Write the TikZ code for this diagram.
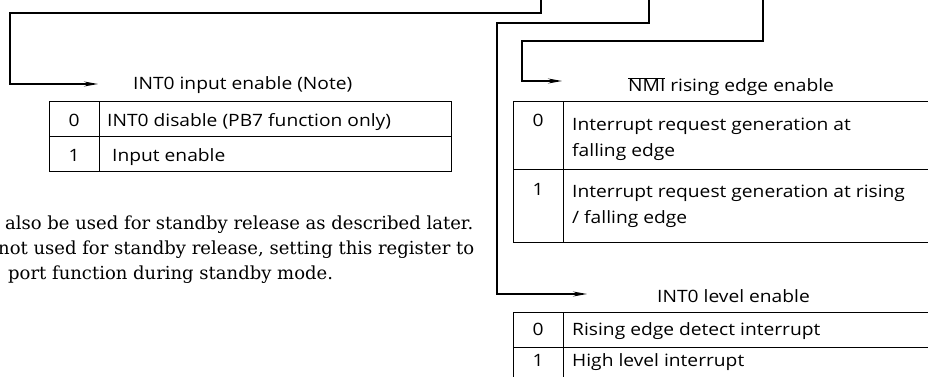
\documentclass[tikz,border=0pt]{standalone}
\usepackage{fontspec}
\setmainfont{Open Sans}[FakeStretch=1.13]
\newfontfamily\notefont{DejaVu Serif}
\usetikzlibrary{arrows.meta}
\tikzset{
  wire/.style={line width=1.3pt},
  wirearr/.style={wire, -{Stealth[length=14pt,width=5pt]}},
  cellbox/.style={draw, line width=1.3pt, rectangle, inner sep=0pt, anchor=north west},
  txt/.style={anchor=base west, inner sep=0pt, font=\fontsize{17}{20}\selectfont},
  num/.style={anchor=base, inner sep=0pt, font=\fontsize{17}{20}\selectfont},
  note/.style={anchor=base west, inner sep=0pt, font=\notefont\fontsize{18}{21}\selectfont}
}

\begin{document}
\begin{tikzpicture}[x=1pt, y=-1pt]
  \useasboundingbox (0,0) rectangle (928,377);

  % INT0 input enable
  \node[cellbox, minimum width=50pt, minimum height=35pt] (inC0) at (49,101) {};
  \node[cellbox, minimum width=352pt, minimum height=35pt] (inE0) at (99,101) {};
  \node[cellbox, minimum width=50pt, minimum height=35pt] (inC1) at (49,136) {};
  \node[cellbox, minimum width=352pt, minimum height=35pt] (inE1) at (99,136) {};
  \node[num] (inN0) at (74,127) {0};
  \node[txt] (inD0) at (107,127) {INT0 disable (PB7 function only)};
  \node[num] (inN1) at (74,161) {1};
  \node[txt] (inD1) at (112,161) {Input enable};
  \node[txt] (inLbl) at (133,90) {INT0 input enable (Note)};
  \coordinate (inTop) at (541,-3);
  \coordinate (inTip) at (98,84);
  \draw[wirearr] (inTop) |- (10,13) |- (inTip);

  % NMI rising edge enable
  \node[cellbox, minimum width=50pt, minimum height=68pt] (nmC0) at (513,101) {};
  \node[cellbox, minimum width=368pt, minimum height=68pt] (nmE0) at (563,101) {};
  \node[cellbox, minimum width=50pt, minimum height=73pt] (nmC1) at (513,169) {};
  \node[cellbox, minimum width=368pt, minimum height=73pt] (nmE1) at (563,169) {};
  \node[num] (nmN0) at (538,127) {0};
  \node[txt] (nmD0a) at (572,130) {Interrupt request generation at};
  \node[txt] (nmD0b) at (572,156) {falling edge};
  \node[num] (nmN1) at (538,195) {1};
  \node[txt] (nmD1a) at (572,197) {Interrupt request generation at rising};
  \node[txt] (nmD1b) at (572,223) {/ falling edge};
  \node[txt] (nmLbl) at (628,92) {$\overline{\mbox{NMI}}$ rising edge enable};
  \coordinate (nmTop) at (763,-3);
  \coordinate (nmTip) at (562,81);
  \draw[wirearr] (nmTop) |- (522,41) |- (nmTip);

  % INT0 level enable
  \node[cellbox, minimum width=50pt, minimum height=35pt] (lvC0) at (513,312) {};
  \node[cellbox, minimum width=368pt, minimum height=35pt] (lvE0) at (563,312) {};
  \node[cellbox, minimum width=50pt, minimum height=35pt] (lvC1) at (513,347) {};
  \node[cellbox, minimum width=368pt, minimum height=35pt] (lvE1) at (563,347) {};
  \node[num] (lvN0) at (538,335) {0};
  \node[txt] (lvD0) at (572,335) {Rising edge detect interrupt};
  \node[num] (lvN1) at (538,366) {1};
  \node[txt] (lvD1) at (572,366) {High level interrupt};
  \node[txt] (lvLbl) at (657,302) {INT0 level enable};
  \coordinate (lvTop) at (649,-3);
  \coordinate (lvTip) at (587,294);
  \draw[wirearr] (lvTop) |- (497,23) |- (lvTip);

  % note below the left table
  \node[note] (nt1) at (5,229) {also be used for standby release as described later.};
  \node[note] (nt2) at (-2,254) {not used for standby release, setting this register to};
  \node[note] (nt3) at (8,279) {port function during standby mode.};
\end{tikzpicture}
\end{document}
